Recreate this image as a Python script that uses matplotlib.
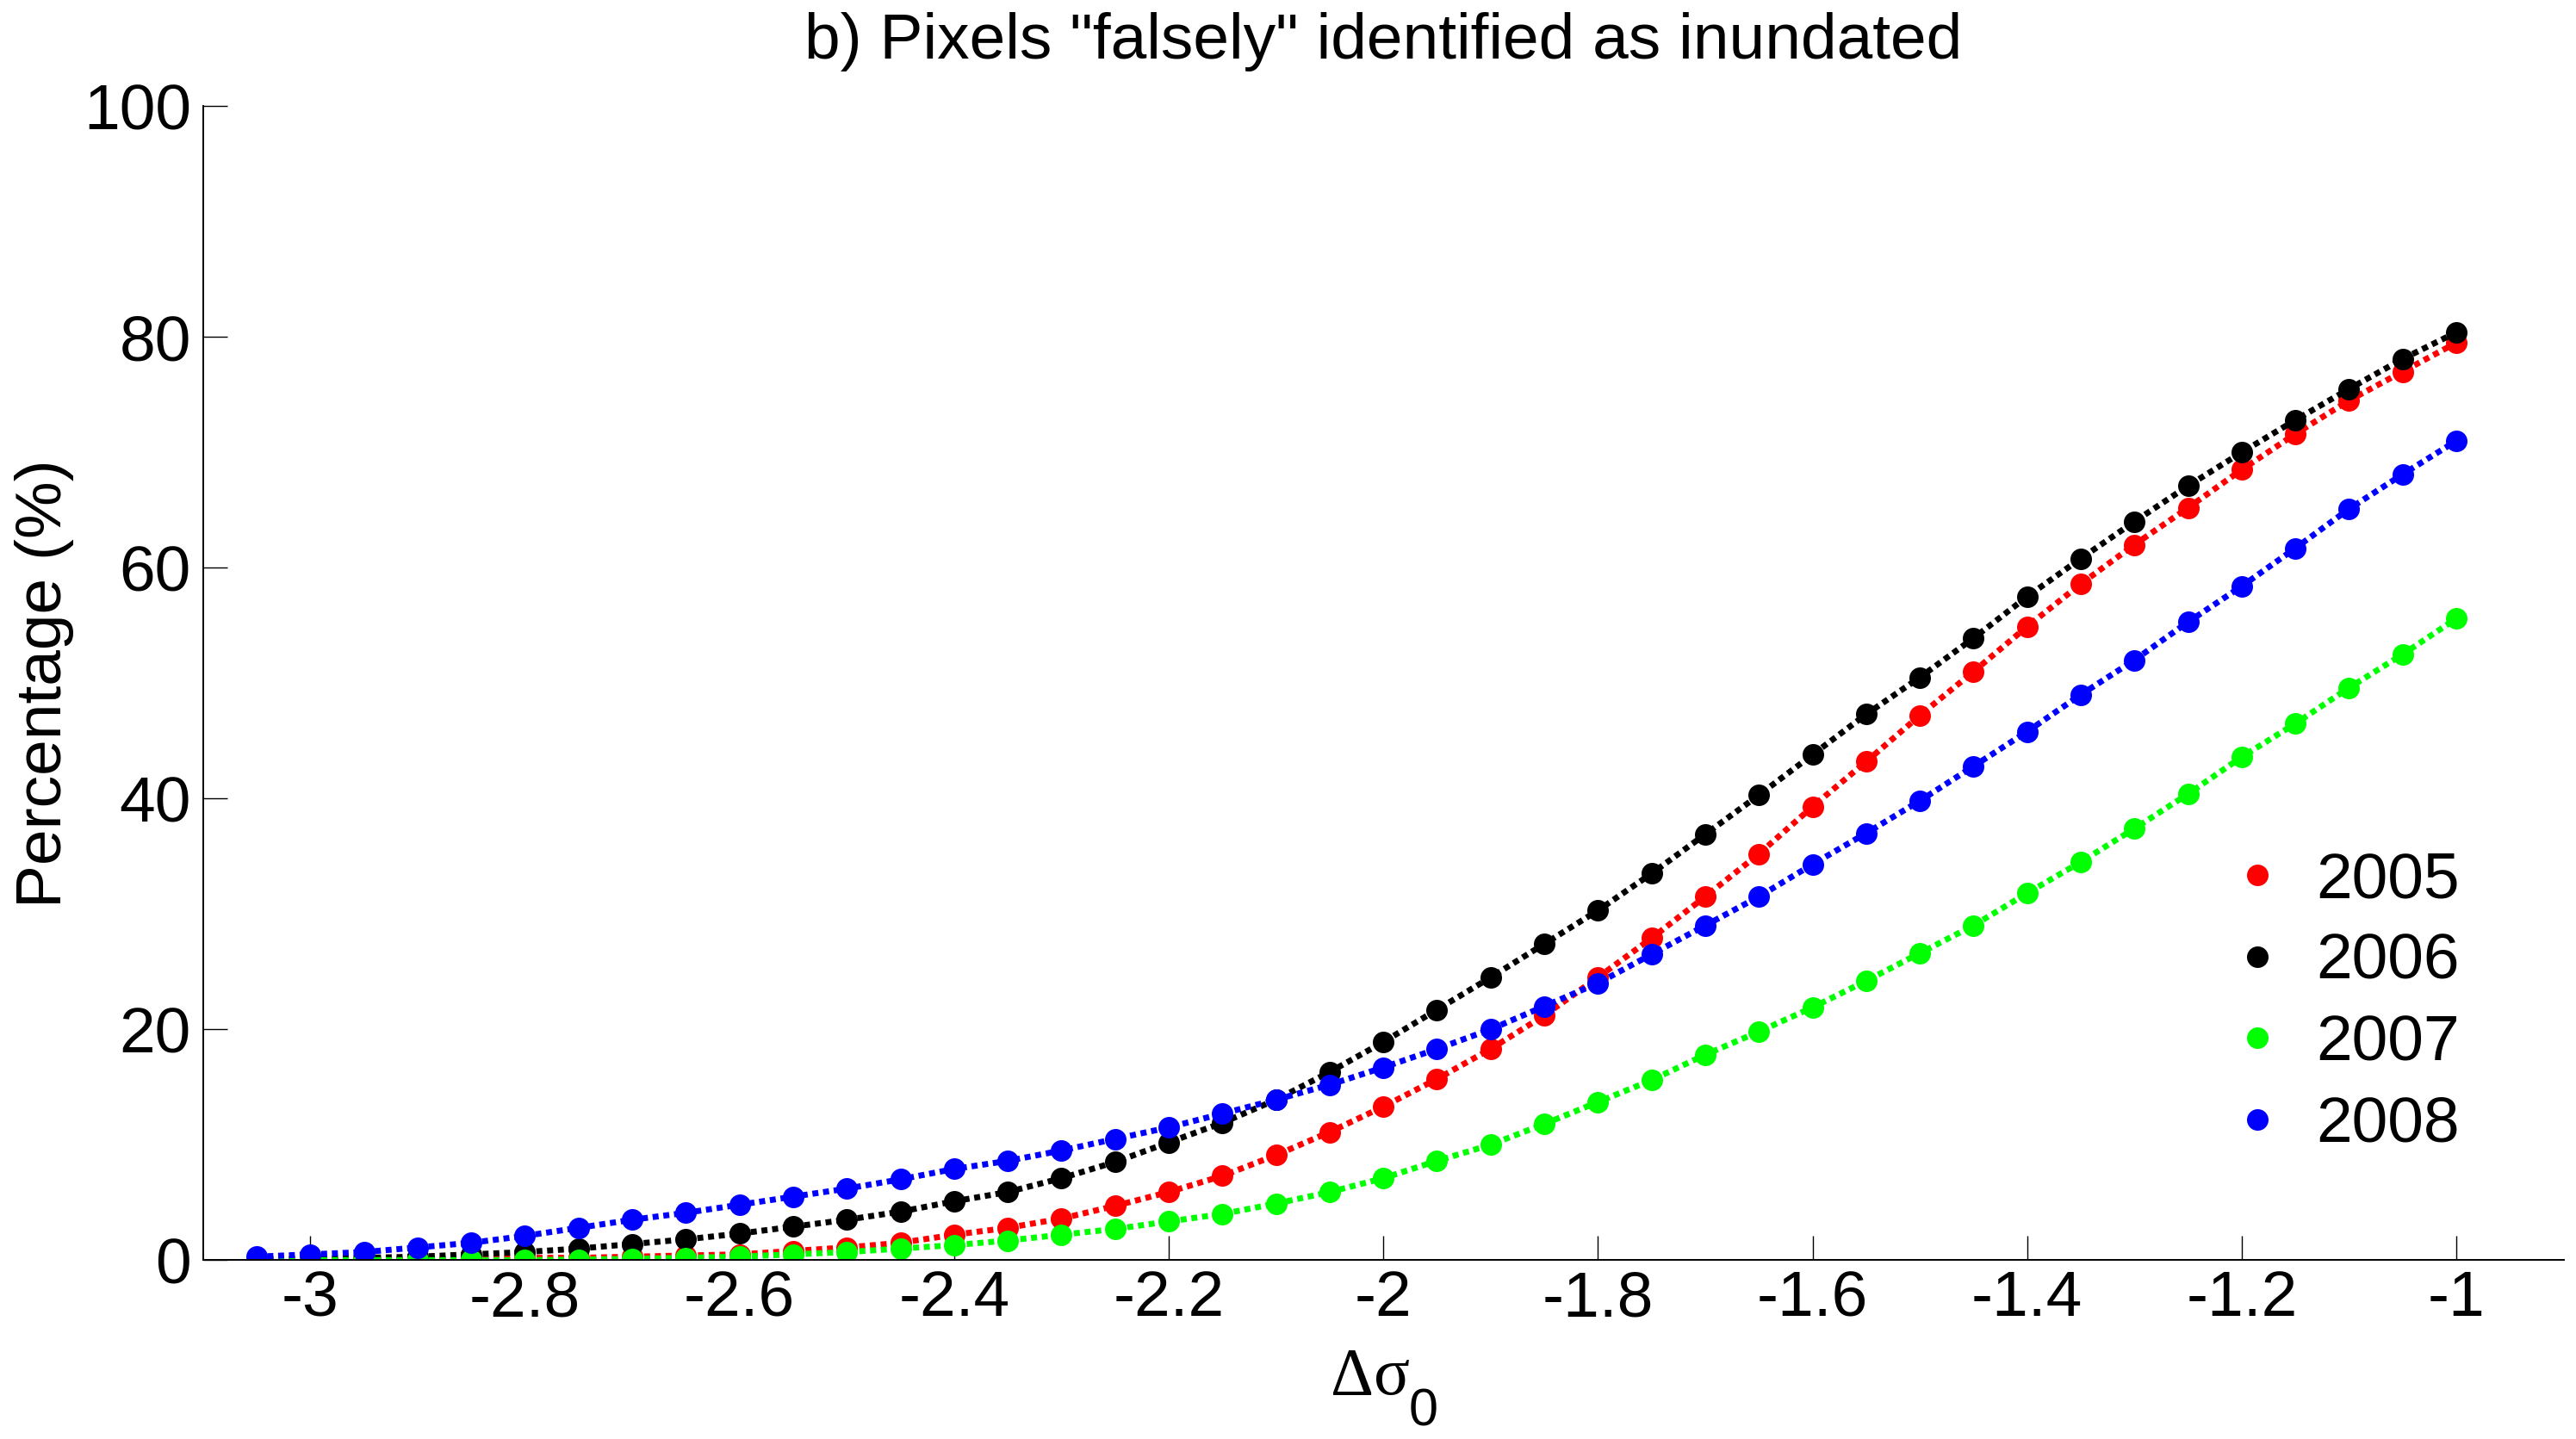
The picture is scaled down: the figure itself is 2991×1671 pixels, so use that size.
import matplotlib
matplotlib.use("Agg")
import matplotlib.pyplot as plt
from matplotlib.lines import Line2D

plt.rcParams['font.family'] = ['Liberation Sans', 'DejaVu Sans']

# threshold values (delta sigma0)
thresholds = [-3.05, -3.00, -2.95, -2.90, -2.85, -2.80, -2.75, -2.70, -2.65, -2.60,
              -2.55, -2.50, -2.45, -2.40, -2.35, -2.30, -2.25, -2.20, -2.15, -2.10,
              -2.05, -2.00, -1.95, -1.90, -1.85, -1.80, -1.75, -1.70, -1.65, -1.60,
              -1.55, -1.50, -1.45, -1.40, -1.35, -1.30, -1.25, -1.20, -1.15, -1.10,
              -1.05, -1.00]

# percentage of pixels falsely flagged, one list per year
pct_2005 = [0.0, 0.0, 0.0, 0.1, 0.1, 0.2, 0.2, 0.3, 0.4, 0.5,
            0.8, 1.1, 1.5, 2.2, 2.8, 3.6, 4.7, 5.9, 7.3, 9.1,
            11.1, 13.3, 15.7, 18.3, 21.2, 24.5, 27.9, 31.5, 35.2, 39.3,
            43.2, 47.2, 51.0, 54.9, 58.6, 62.0, 65.2, 68.5, 71.6, 74.5,
            77.0, 79.5]
pct_2006 = [0.1, 0.1, 0.2, 0.3, 0.5, 0.7, 1.0, 1.4, 1.8, 2.3,
            2.9, 3.5, 4.2, 5.1, 5.9, 7.1, 8.5, 10.2, 11.9, 13.9,
            16.3, 18.9, 21.7, 24.5, 27.4, 30.3, 33.5, 36.9, 40.3, 43.8,
            47.3, 50.5, 53.9, 57.5, 60.8, 64.0, 67.1, 70.0, 72.8, 75.5,
            78.1, 80.4]
pct_2007 = [0.0, 0.0, 0.0, 0.0, 0.0, 0.0, 0.05, 0.1, 0.2, 0.3,
            0.5, 0.7, 1.0, 1.3, 1.7, 2.2, 2.7, 3.35, 4.0, 4.9,
            5.9, 7.1, 8.6, 10.0, 11.8, 13.7, 15.6, 17.8, 19.8, 21.9,
            24.2, 26.6, 29.0, 31.8, 34.5, 37.4, 40.4, 43.6, 46.5, 49.6,
            52.5, 55.6]
pct_2008 = [0.3, 0.5, 0.7, 1.1, 1.5, 2.1, 2.8, 3.5, 4.1, 4.8,
            5.5, 6.2, 7.0, 7.9, 8.6, 9.5, 10.5, 11.5, 12.7, 13.9,
            15.2, 16.7, 18.3, 20.0, 22.0, 24.0, 26.5, 29.0, 31.5, 34.3,
            37.0, 39.8, 42.8, 45.8, 49.0, 52.0, 55.3, 58.4, 61.7, 65.1,
            68.1, 71.0]

years = ['2005', '2006', '2007', '2008']
series = [pct_2005, pct_2006, pct_2007, pct_2008]
colors = ['#ff0000', '#000000', '#00ff00', '#0000ff']

xticks = [-3, -2.8, -2.6, -2.4, -2.2, -2, -1.8, -1.6, -1.4, -1.2, -1]
xtick_labels = ['-3', '-2.8', '-2.6', '-2.4', '-2.2', '-2', '-1.8', '-1.6', '-1.4', '-1.2', '-1']
yticks = [0, 20, 40, 60, 80, 100]

FS = 27
MS = 9

fig = plt.figure(figsize=(14.955, 8.355), dpi=200)
ax = fig.add_axes([0.0788, 0.1243, 0.9164, 0.8019])

for vals, col in zip(series, colors):
    ax.plot(thresholds, vals, color=col, linestyle=(0, (1.0, 0.8)), linewidth=2.5,
            marker='o', markersize=MS, markeredgewidth=0, dash_capstyle='butt')

ax.set_xlim(-3.1, -0.9)
ax.set_ylim(0, 100)
ax.set_xticks(xticks)
ax.set_xticklabels(xtick_labels)
ax.set_yticks(yticks)
ax.tick_params(direction='in', length=10, width=0.5, labelsize=FS)
ax.tick_params(axis='x', pad=4)
ax.tick_params(axis='y', pad=5)
for side in ['top', 'right']:
    ax.spines[side].set_visible(False)
for side in ['left', 'bottom']:
    ax.spines[side].set_linewidth(0.7)

ax.set_title('b) Pixels "falsely" identified as inundated', fontsize=FS, pad=20)
ax.set_ylabel('Percentage (%)', fontsize=FS)
ax.yaxis.set_label_coords(-0.0547, 0.5)

# x label: delta sigma with a sans-serif subscript zero
fig.text(0.5166, 0.0311, '\u0394\u03c3', fontsize=28, family=['Liberation Serif', 'DejaVu Serif'],
         ha='left', va='baseline')
fig.text(0.5467, 0.0090, '0', fontsize=22, ha='left', va='baseline')

handles = [Line2D([], [], color=c, linestyle='none', marker='o', markersize=MS,
                  markeredgewidth=0) for c in colors]
fig.legend(handles, years, loc='center left', bbox_to_anchor=(0.8636, 0.303),
           frameon=False, fontsize=FS, handlelength=1.0, handletextpad=0.42,
           labelspacing=0.34, borderpad=0, borderaxespad=0)

fig.savefig('out.png', dpi=200)
